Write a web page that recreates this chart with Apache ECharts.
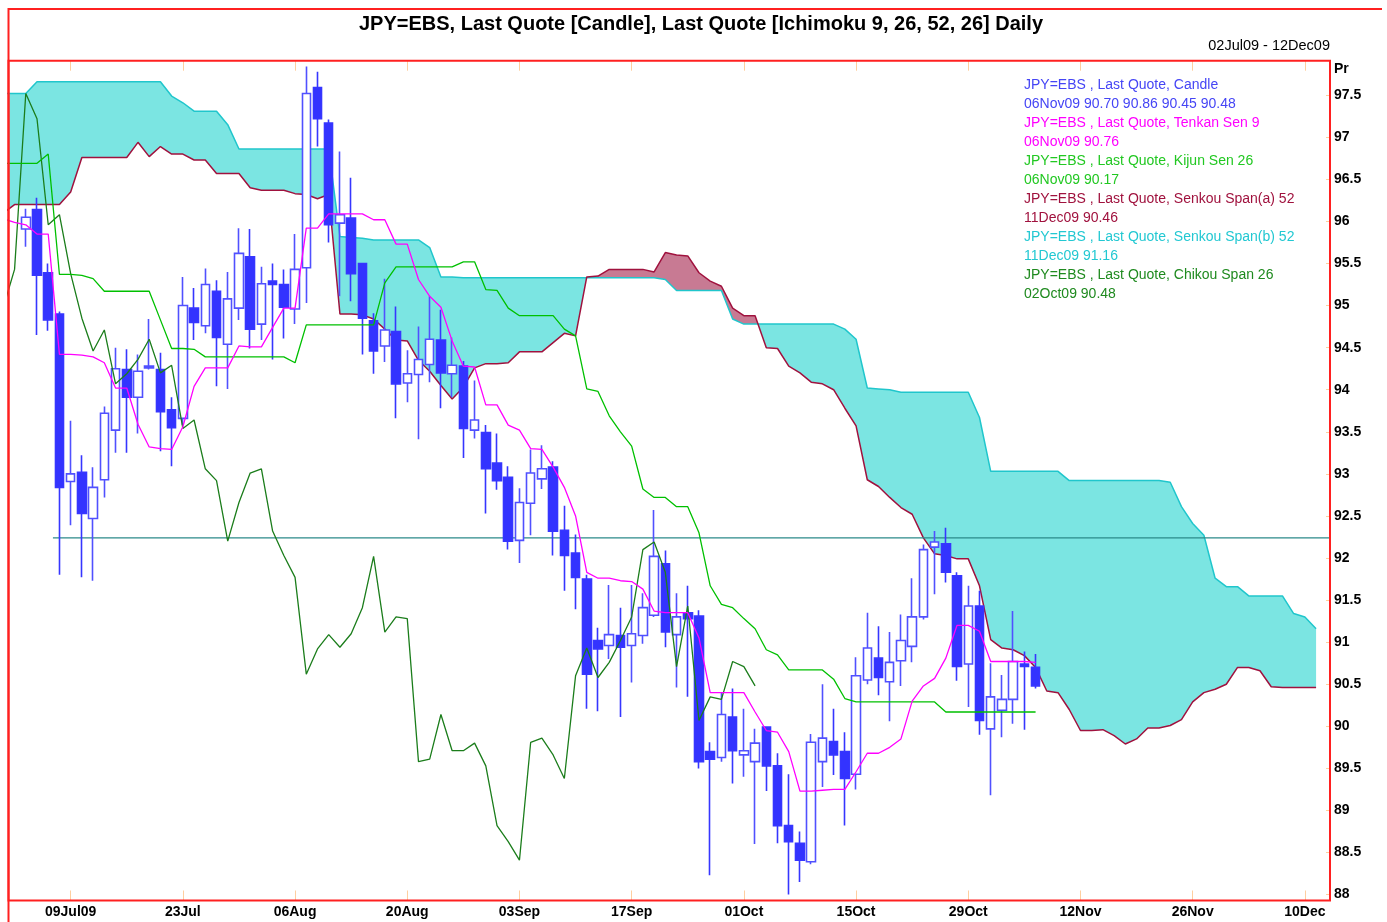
<!DOCTYPE html>
<html>
<head>
<meta charset="utf-8">
<title>JPY=EBS Ichimoku</title>
<script src="https://cdn.jsdelivr.net/npm/echarts@6/dist/echarts.min.js"></script>
<style>
  html, body { margin: 0; padding: 0; background: #fff; }
  #chart { width: 1387px; height: 922px; }
</style>
</head>
<body>
<div id="chart"></div>
<script>
// x is the trading-day index: 0 = 02Jul09 ... 91 = 06Nov09 ... 116 = 11Dec09
const tickPos = [5, 15, 25, 35, 45, 55, 65, 75, 85, 95, 105, 115];
const tickLabels = ['09Jul09', '23Jul', '06Aug', '20Aug', '03Sep', '17Sep', '01Oct', '15Oct', '29Oct', '12Nov', '26Nov', '10Dec'];

// candles, index 0..91 (no candle on index 0)
const opens = [null,
  95.91, 96.14, 95.39, 94.90, 92.91, 93.02, 92.47, 92.93, 93.52, 94.24,
  93.91, 94.26, 94.24, 93.76, 93.66, 94.97, 94.76, 95.17, 94.54, 94.97,
  95.58, 94.78, 95.29, 95.25, 94.96, 95.45, 97.59, 97.17, 95.98, 96.04,
  95.50, 94.82, 94.52, 94.69, 94.08, 94.18, 94.30, 94.59, 94.19, 94.28,
  93.52, 93.49, 93.13, 92.96, 92.21, 92.65, 92.94, 93.08, 92.33, 92.06,
  91.75, 91.02, 90.96, 91.08, 90.96, 91.08, 91.32, 91.93, 91.09, 91.35,
  91.31, 89.70, 89.63, 90.11, 89.66, 89.58, 89.99, 89.53, 88.82, 88.61,
  88.39, 89.58, 89.82, 89.70, 89.43, 90.55, 90.81, 90.53, 90.78, 90.95,
  91.30, 92.13, 92.17, 91.79, 90.74, 91.43, 89.97, 90.19, 90.32, 90.74, 90.70];
const closes = [null,
  96.05, 95.36, 94.83, 92.84, 93.00, 92.53, 92.84, 93.72, 94.25, 93.91,
  94.22, 94.28, 93.74, 93.55, 95.00, 94.80, 95.25, 94.62, 95.08, 95.62,
  94.72, 95.26, 95.25, 94.98, 95.43, 97.52, 97.22, 95.96, 96.08, 95.38,
  94.85, 94.46, 94.71, 94.07, 94.19, 94.36, 94.60, 94.20, 94.29, 93.54,
  93.64, 93.06, 92.92, 92.20, 92.66, 93.01, 93.06, 92.32, 92.03, 91.77,
  90.62, 90.92, 91.09, 90.94, 91.10, 91.41, 92.02, 91.12, 91.30, 91.28,
  89.58, 89.61, 90.14, 89.71, 89.71, 89.80, 89.53, 88.82, 88.63, 88.41,
  89.81, 89.86, 89.66, 89.38, 90.60, 90.93, 90.58, 90.76, 91.02, 91.30,
  92.10, 92.19, 91.83, 90.71, 91.43, 90.07, 90.35, 90.32, 90.77, 90.71, 90.48];
const lows = [null,
  95.70, 94.65, 94.70, 91.80, 92.39, 91.77, 91.73, 92.72, 93.25, 93.25,
  93.48, 94.24, 93.27, 93.09, 93.58, 94.59, 94.67, 94.04, 94.01, 94.83,
  94.49, 94.59, 94.36, 94.61, 94.78, 95.03, 96.89, 95.75, 95.11, 95.05,
  94.42, 94.19, 94.33, 93.66, 93.85, 93.41, 94.09, 93.78, 93.91, 93.19,
  93.42, 92.53, 92.81, 92.10, 91.94, 92.27, 92.82, 92.03, 91.61, 91.39,
  90.21, 90.18, 90.80, 90.11, 90.52, 90.98, 91.30, 90.94, 90.46, 90.35,
  89.50, 88.23, 89.58, 89.32, 89.40, 88.60, 89.23, 88.61, 88.00, 88.15,
  88.36, 89.28, 89.42, 88.82, 89.25, 90.50, 90.37, 90.06, 90.48, 90.76,
  91.27, 91.57, 91.71, 90.54, 90.23, 89.90, 89.18, 89.87, 90.03, 89.96, 90.45];
const highs = [null,
  96.15, 96.28, 95.50, 94.93, 93.63, 93.22, 93.08, 93.80, 94.50, 94.48,
  94.42, 94.84, 94.44, 93.91, 95.34, 95.21, 95.44, 95.30, 95.40, 95.92,
  95.91, 95.46, 95.50, 95.43, 95.85, 97.84, 97.78, 97.21, 96.83, 96.52,
  95.51, 94.91, 95.32, 94.99, 94.47, 94.75, 95.11, 94.95, 94.62, 94.34,
  94.11, 93.58, 93.48, 93.09, 92.83, 93.29, 93.34, 93.15, 92.62, 92.28,
  91.80, 91.17, 91.68, 91.41, 91.68, 91.58, 92.57, 92.09, 91.58, 91.67,
  91.38, 89.81, 90.40, 90.45, 90.21, 89.97, 90.00, 89.68, 89.43, 88.75,
  89.91, 90.50, 90.21, 89.93, 90.82, 91.35, 91.19, 91.12, 91.33, 91.76,
  92.16, 92.32, 92.36, 91.83, 91.67, 91.61, 90.75, 90.61, 91.37, 90.89, 90.86];

// indicator lines, all starting at index -1 (clipped at the left border)
const tenkan = [96.03,
  95.99, 95.96, 95.85, 95.85, 94.42, 94.42, 94.41, 94.39, 94.32, 94.02,
  94.02, 93.59, 93.32, 93.30, 93.29, 93.56, 94.04, 94.26, 94.26, 94.26,
  94.52, 94.51, 94.51, 94.74, 94.97, 94.97, 95.92, 95.92, 96.09, 96.09,
  96.09, 96.09, 96.02, 96.02, 95.73, 95.73, 95.31, 95.11, 94.98, 94.58,
  94.28, 94.27, 93.82, 93.82, 93.58, 93.52, 93.30, 93.29, 93.08, 92.84,
  92.50, 91.83, 91.76, 91.76, 91.73, 91.72, 91.63, 91.37, 91.35, 91.35,
  91.35, 91.05, 90.40, 90.40, 90.40, 90.40, 90.17, 89.95, 89.93, 89.70,
  89.23, 89.23, 89.24, 89.25, 89.25, 89.46, 89.68, 89.68, 89.75, 89.85,
  90.30, 90.48, 90.57, 90.81, 91.20, 91.20, 91.13, 90.77, 90.77, 90.77,
  90.77, 90.76];
const kijun = [96.69,
  96.69, 96.69, 96.69, 96.80, 95.37, 95.37, 95.36, 95.32, 95.17, 95.17,
  95.17, 95.17, 95.17, 94.83, 94.49, 94.49, 94.48, 94.39, 94.39, 94.39,
  94.39, 94.39, 94.39, 94.39, 94.39, 94.32, 94.77, 94.77, 94.77, 94.77,
  94.77, 94.77, 94.77, 95.27, 95.46, 95.46, 95.46, 95.46, 95.46, 95.46,
  95.52, 95.52, 95.19, 95.18, 94.97, 94.88, 94.88, 94.88, 94.88, 94.72,
  94.64, 94.01, 93.98, 93.69, 93.50, 93.33, 92.82, 92.72, 92.72, 92.61,
  92.61, 92.30, 91.67, 91.45, 91.41, 91.28, 91.16, 90.91, 90.85, 90.67,
  90.67, 90.67, 90.67, 90.56, 90.33, 90.29, 90.29, 90.29, 90.29, 90.29,
  90.29, 90.29, 90.29, 90.17, 90.17, 90.17, 90.17, 90.17, 90.17, 90.17,
  90.17, 90.17];
const chikou = [94.98,
  95.43, 97.52, 97.22, 95.96, 96.08, 95.38, 94.85, 94.46, 94.71, 94.07,
  94.19, 94.36, 94.60, 94.20, 94.29, 93.54, 93.64, 93.06, 92.92, 92.20,
  92.66, 93.01, 93.06, 92.32, 92.03, 91.77, 90.62, 90.92, 91.09, 90.94,
  91.10, 91.41, 92.02, 91.12, 91.30, 91.28, 89.58, 89.61, 90.14, 89.71,
  89.71, 89.80, 89.53, 88.82, 88.63, 88.41, 89.81, 89.86, 89.66, 89.38,
  90.60, 90.93, 90.58, 90.76, 91.02, 91.30, 92.10, 92.19, 91.83, 90.71,
  91.43, 90.07, 90.35, 90.32, 90.77, 90.71, 90.48];
const spanA = [96.10,
  96.20, 96.20, 96.20, 96.20, 96.20, 96.35, 96.76, 96.76, 96.76, 96.76,
  96.76, 96.94, 96.77, 96.89, 96.80, 96.80, 96.73, 96.73, 96.57, 96.57,
  96.57, 96.40, 96.37, 96.37, 96.37, 96.33, 96.32, 96.27, 96.32, 94.90,
  94.90, 94.89, 94.84, 94.72, 94.59, 94.58, 94.35, 94.22, 94.05, 93.89,
  94.03, 94.26, 94.31, 94.31, 94.32, 94.45, 94.45, 94.45, 94.56, 94.67,
  94.64, 95.34, 95.35, 95.43, 95.43, 95.43, 95.43, 95.40, 95.63, 95.60,
  95.59, 95.39, 95.29, 95.23, 94.97, 94.88, 94.88, 94.50, 94.49, 94.28,
  94.20, 94.09, 94.07, 94.00, 93.78, 93.57, 92.93, 92.85, 92.72, 92.60,
  92.52, 92.24, 92.05, 92.03, 91.99, 91.99, 91.67, 91.03, 90.93, 90.91,
  90.84, 90.70, 90.42, 90.40, 90.20, 89.95, 89.95, 89.96, 89.89, 89.79,
  89.85, 89.98, 89.98, 90.01, 90.08, 90.29, 90.40, 90.44, 90.50, 90.70,
  90.70, 90.66, 90.47, 90.46, 90.46, 90.46, 90.46];
const spanB = [97.52,
  97.52, 97.52, 97.66, 97.66, 97.66, 97.66, 97.66, 97.66, 97.66, 97.66,
  97.66, 97.66, 97.66, 97.66, 97.49, 97.41, 97.31, 97.31, 97.31, 97.15,
  96.86, 96.86, 96.86, 96.86, 96.86, 96.86, 96.86, 96.86, 96.86, 95.82,
  95.81, 95.80, 95.78, 95.78, 95.78, 95.78, 95.78, 95.69, 95.34, 95.34,
  95.33, 95.33, 95.33, 95.33, 95.33, 95.33, 95.33, 95.33, 95.33, 95.33,
  95.33, 95.33, 95.33, 95.33, 95.33, 95.33, 95.33, 95.33, 95.31, 95.18,
  95.18, 95.18, 95.18, 95.18, 94.84, 94.78, 94.78, 94.78, 94.78, 94.78,
  94.78, 94.78, 94.78, 94.78, 94.72, 94.60, 94.02, 94.01, 94.00, 93.97,
  93.97, 93.97, 93.97, 93.97, 93.97, 93.97, 93.67, 93.03, 93.03, 93.03,
  93.03, 93.03, 93.03, 93.03, 92.92, 92.92, 92.92, 92.92, 92.92, 92.92,
  92.92, 92.92, 92.92, 92.90, 92.61, 92.41, 92.27, 91.76, 91.66, 91.66,
  91.55, 91.55, 91.55, 91.55, 91.34, 91.30, 91.16];

// drawn horizontal line
const hlineLevel = 92.24;
const hlineFrom = 3.42;

const chartDom = document.getElementById('chart');
const myChart = echarts.init(chartDom);

const FONT = '"Liberation Sans", Arial, sans-serif';
const CYAN_FILL = '#7be5e2';
const MAROON_FILL = '#c87a93';

const toXY = (arr) => arr.map((v, k) => [k - 1, v]);

const candleData = [];
for (let i = 1; i < opens.length; i++) {
    candleData.push([i, opens[i], closes[i], lows[i], highs[i]]);
}

// split the cloud into runs where one span stays above the other
function cloudRuns() {
    const runs = [];
    let cur = [[-1, spanA[0], spanB[0]]];
    let sign = Math.sign(spanB[0] - spanA[0]);
    for (let k = 0; k < spanA.length - 1; k++) {
        const d0 = spanB[k] - spanA[k], d1 = spanB[k + 1] - spanA[k + 1];
        if (d0 * d1 < 0) {
            const t = d0 / (d0 - d1);
            const xc = (k - 1) + t;
            const yc = spanA[k] + t * (spanA[k + 1] - spanA[k]);
            cur.push([xc, yc, yc]);
            runs.push({ pts: cur, sign: sign });
            cur = [[xc, yc, yc]];
            sign = Math.sign(d1);
        } else if (sign === 0) {
            sign = Math.sign(d1);
        }
        cur.push([k, spanA[k + 1], spanB[k + 1]]);
    }
    runs.push({ pts: cur, sign: sign });
    return runs;
}

function renderCloud(params, api) {
    const children = cloudRuns().map(run => {
        const upper = run.pts.map(p => api.coord([p[0], p[1]]));
        const lower = run.pts.slice().reverse().map(p => api.coord([p[0], p[2]]));
        const color = run.sign >= 0 ? CYAN_FILL : MAROON_FILL;
        return {
            type: 'polygon',
            shape: { points: upper.concat(lower) },
            style: { fill: color, stroke: null }
        };
    });
    return { type: 'group', children: children };
}

const last = opens.length - 1;
const f2 = (v) => v.toFixed(2);
const legendLines = [
    ['JPY=EBS , Last Quote, Candle', '#4545f5'],
    ['06Nov09 ' + [opens[last], highs[last], lows[last], closes[last]].map(f2).join(' '), '#4545f5'],
    ['JPY=EBS , Last Quote, Tenkan Sen 9', '#ff00ff'],
    ['06Nov09 ' + f2(tenkan[tenkan.length - 1]), '#ff00ff'],
    ['JPY=EBS , Last Quote, Kijun Sen 26', '#22c822'],
    ['06Nov09 ' + f2(kijun[kijun.length - 1]), '#22c822'],
    ['JPY=EBS , Last Quote, Senkou Span(a) 52', '#a0123e'],
    ['11Dec09 ' + f2(spanA[spanA.length - 1]), '#a0123e'],
    ['JPY=EBS , Last Quote, Senkou Span(b) 52', '#22c8d2'],
    ['11Dec09 ' + f2(spanB[spanB.length - 1]), '#22c8d2'],
    ['JPY=EBS , Last Quote, Chikou Span 26', '#1f8a1f'],
    ['02Oct09 ' + f2(chikou[chikou.length - 1]), '#1f8a1f']
];

const grid = { left: 8.5, top: 60.7, width: 1321.5, height: 839.8 };

const graphics = [
    {
        type: 'polyline', z: 100, silent: true,
        shape: { points: [[8.5, 923], [8.5, 9], [1382, 9]] },
        style: { stroke: '#ff2020', lineWidth: 2, fill: null }
    },
    {
        type: 'rect', z: 100, silent: true,
        shape: { x: grid.left, y: grid.top, width: grid.width, height: grid.height },
        style: { stroke: '#ff2020', lineWidth: 2, fill: 'transparent' }
    },
    {
        type: 'text', z: 100, silent: true,
        style: {
            x: 701, y: 24, text: 'JPY=EBS, Last Quote [Candle], Last Quote [Ichimoku 9, 26, 52, 26] Daily',
            align: 'center', verticalAlign: 'middle', font: 'bold 20px ' + FONT, fill: '#000'
        }
    },
    {
        type: 'text', z: 100, silent: true,
        style: {
            x: 1330, y: 46, text: '02Jul09 - 12Dec09',
            align: 'right', verticalAlign: 'middle', font: '14.5px ' + FONT, fill: '#000'
        }
    },
    {
        type: 'text', z: 100, silent: true,
        style: {
            x: 1334, y: 69, text: 'Pr',
            align: 'left', verticalAlign: 'middle', font: 'bold 14px ' + FONT, fill: '#000'
        }
    }
];
legendLines.forEach((ln, k) => {
    graphics.push({
        type: 'text', z: 100, silent: true,
        style: {
            x: 1024, y: 85 + k * 19, text: ln[0],
            align: 'left', verticalAlign: 'middle', font: '14px ' + FONT, fill: ln[1]
        }
    });
});

const tickStyle = { color: '#ffcf9f', width: 1 };

const option = {
    animation: false,
    backgroundColor: '#ffffff',
    grid: { left: grid.left, top: grid.top, width: grid.width, height: grid.height, show: false },
    xAxis: [
        {
            type: 'value', position: 'bottom', min: -0.54, max: 117.24,
            splitLine: { show: false },
            axisLine: { show: false, onZero: false },
            axisTick: { show: true, inside: true, length: 10, customValues: tickPos, lineStyle: tickStyle },
            axisLabel: {
                customValues: tickPos,
                formatter: (v) => tickLabels[tickPos.indexOf(v)],
                color: '#000', fontWeight: 'bold', fontSize: 14, fontFamily: FONT, margin: 5
            }
        },
        {
            type: 'value', position: 'top', min: -0.54, max: 117.24,
            splitLine: { show: false },
            axisLine: { show: false, onZero: false },
            axisTick: { show: true, inside: true, length: 10, customValues: tickPos, lineStyle: tickStyle },
            axisLabel: { show: false }
        }
    ],
    yAxis: {
        type: 'value', position: 'right', min: 87.93, max: 97.91, splitNumber: 20,
        splitLine: { show: false },
        axisLine: { show: false, onZero: false },
        axisTick: { show: true, inside: true, length: 4, lineStyle: tickStyle },
        axisLabel: {
            showMinLabel: false, showMaxLabel: false, margin: 4,
            color: '#000', fontWeight: 'bold', fontSize: 14, fontFamily: FONT
        }
    },
    series: [
        {
            name: 'Cloud', type: 'custom', renderItem: renderCloud, clip: true, z: 1,
            encode: { x: 0, y: 1 },
            data: [[-1, spanA[0]]], silent: true
        },
        {
            name: 'Senkou Span(b)', type: 'line', data: toXY(spanB), showSymbol: false, symbol: 'none', clip: true, z: 2,
            lineStyle: { color: '#20c6cc', width: 1.5 }
        },
        {
            name: 'Senkou Span(a)', type: 'line', data: toXY(spanA), showSymbol: false, symbol: 'none', clip: true, z: 2,
            lineStyle: { color: '#a0123e', width: 1.5 }
        },
        {
            name: 'Level', type: 'line', data: [[hlineFrom, hlineLevel], [117.3, hlineLevel]],
            showSymbol: false, symbol: 'none', clip: true, z: 3,
            lineStyle: { color: '#2b8a8a', width: 1.3 }
        },
        {
            name: 'Candle', type: 'candlestick', data: candleData, z: 4,
            encode: { x: 0, y: [1, 2, 3, 4] },
            barWidth: 9,
            itemStyle: {
                color: '#ffffff', color0: '#3333ff',
                borderColor: '#5050ff', borderColor0: '#3636ff', borderWidth: 1.6
            }
        },
        {
            name: 'Chikou Span', type: 'line', data: toXY(chikou), showSymbol: false, symbol: 'none', clip: true, z: 5,
            lineStyle: { color: '#1b7d1b', width: 1.3 }
        },
        {
            name: 'Kijun Sen', type: 'line', data: toXY(kijun), showSymbol: false, symbol: 'none', clip: true, z: 5,
            lineStyle: { color: '#00c000', width: 1.3 }
        },
        {
            name: 'Tenkan Sen', type: 'line', data: toXY(tenkan), showSymbol: false, symbol: 'none', clip: true, z: 5,
            lineStyle: { color: '#ff00ff', width: 1.3 }
        }
    ],
    graphic: graphics
};

option && myChart.setOption(option);
</script>
</body>
</html>
